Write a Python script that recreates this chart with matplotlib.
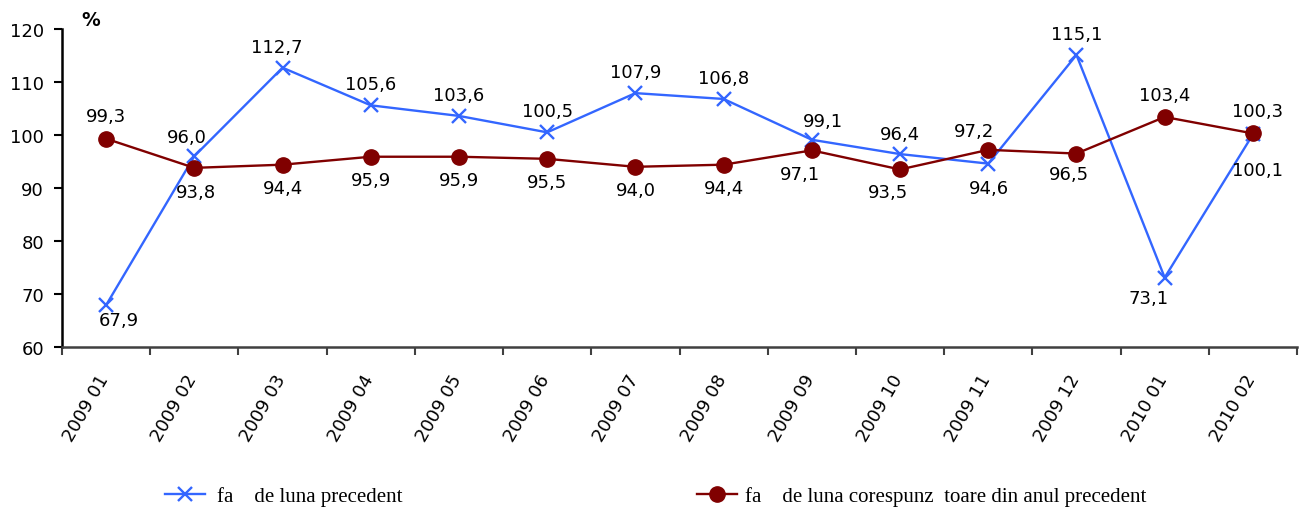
import matplotlib
matplotlib.use("Agg")
import matplotlib.pyplot as plt
import matplotlib.transforms as mtransforms
from matplotlib.lines import Line2D

categories = ["2009 01", "2009 02", "2009 03", "2009 04", "2009 05", "2009 06", "2009 07",
              "2009 08", "2009 09", "2009 10", "2009 11", "2009 12", "2010 01", "2010 02"]
prev_month = [67.9, 96.0, 112.7, 105.6, 103.6, 100.5, 107.9, 106.8, 99.1, 96.4, 94.6, 115.1, 73.1, 100.1]
same_month_prev_year = [99.3, 93.8, 94.4, 95.9, 95.9, 95.5, 94.0, 94.4, 97.1, 93.5, 97.2, 96.5, 103.4, 100.3]
label_prev = "fa    de luna precedent"
label_year = "fa    de luna corespunz  toare din anul precedent"

# label offsets in pixels (dx, dy), dy positive = up
off_blue = [(13, -15), (-8, 19), (-6, 21), (0, 21), (0, 21), (0, 21), (0, 21),
            (0, 21), (11, 19), (0, 20), (1, -24), (0, 21), (-16, -20), (5, -36)]
off_red = [(0, 23), (2, -24), (0, -23), (0, -23), (0, -23), (0, -23), (0, -23),
           (0, -23), (-12, -24), (-12, -23), (-14, 19), (-8, -20), (0, 22), (5, 22)]

BLUE = "#3366FF"
RED = "#800000"
FONT = "DejaVu Sans"
FS = 13

fig = plt.figure(figsize=(12.99, 5.10), dpi=100)
ax = fig.add_axes([62/1299, 1-348/510, (1297-62)/1299, (348-30)/510])

x = list(range(len(categories)))
ax.plot(x, prev_month, color=BLUE, lw=1.7, marker="x", ms=10, mew=1.7, zorder=3)
ax.plot(x, same_month_prev_year, color=RED, lw=1.7, marker="o", ms=11, zorder=4)

pt = 0.72
for xi, v, (dx, dy) in zip(x, prev_month, off_blue):
    ax.annotate(f"{v:.1f}".replace(".", ","), (xi, v), xytext=(dx*pt, dy*pt),
                textcoords="offset points", ha="center", va="center",
                fontsize=FS, family=FONT)
for xi, v, (dx, dy) in zip(x, same_month_prev_year, off_red):
    ax.annotate(f"{v:.1f}".replace(".", ","), (xi, v), xytext=(dx*pt, dy*pt),
                textcoords="offset points", ha="center", va="center",
                fontsize=FS, family=FONT)

ax.set_xlim(-0.5, len(categories) - 0.5)
ax.set_ylim(60, 120)
ax.set_yticks(range(60, 121, 10))
ax.set_yticklabels([str(v) for v in range(60, 121, 10)], fontsize=FS, family=FONT)
ax.set_xticks([i - 0.5 for i in range(len(categories) + 1)])
ax.set_xticklabels([])

# category labels, rotated, placed under each category centre
base = mtransforms.blended_transform_factory(ax.transData, ax.transAxes)
shift = mtransforms.ScaledTranslation(-9/100, -24/100, fig.dpi_scale_trans)
for xi, cat in zip(x, categories):
    ax.text(xi, 0, cat, transform=base + shift, rotation=60, ha="right", va="top",
            rotation_mode="anchor", fontsize=FS, family=FONT, clip_on=False)

ax.tick_params(axis="x", which="major", length=6, width=1.5, color="#404040", direction="out")
ax.tick_params(axis="y", length=6, width=1.5, color="black", direction="out", pad=7)
for s in ["top", "right"]:
    ax.spines[s].set_visible(False)
ax.spines["left"].set_linewidth(1.8)
ax.spines["left"].set_color("black")
ax.spines["bottom"].set_linewidth(1.8)
ax.spines["bottom"].set_color("#404040")

fig.text(81/1299, 1-20/510, "%", fontsize=13.5, fontweight="bold", family=FONT,
         ha="left", va="center")

h1 = Line2D([], [], color=BLUE, lw=1.7, marker="x", ms=10, mew=1.7)
h2 = Line2D([], [], color=RED, lw=1.7, marker="o", ms=11)
legprop = {"family": "Liberation Serif", "size": 15}
fig.legend([h1], [label_prev], loc="center left", bbox_to_anchor=(165/1299, 1-497/510),
           frameon=False, prop=legprop,
           handlelength=1.9, handletextpad=0.6, borderpad=0, borderaxespad=0)
fig.legend([h2], [label_year], loc="center left", bbox_to_anchor=(697/1299, 1-497/510),
           frameon=False, prop=legprop,
           handlelength=1.9, handletextpad=0.4, borderpad=0, borderaxespad=0)

fig.savefig("out.png", dpi=100)
